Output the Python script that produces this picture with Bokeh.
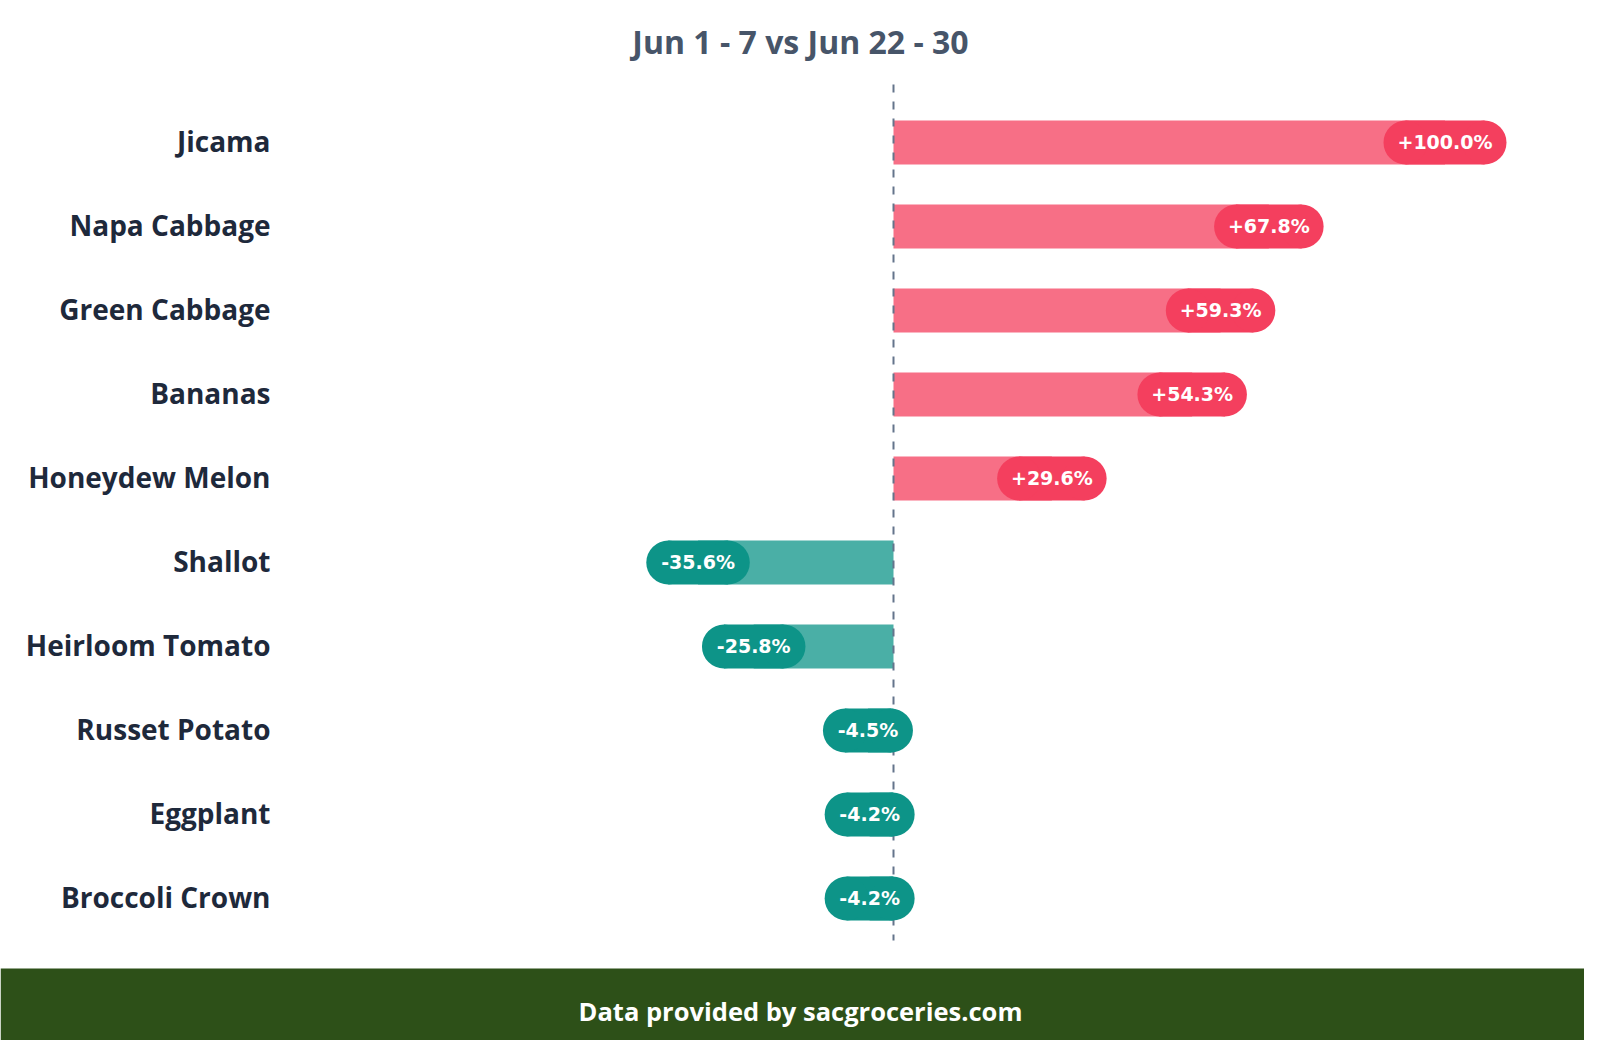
from bokeh.plotting import figure
from bokeh.models import Range1d, BoxAnnotation, ColumnDataSource
from bokeh.core.properties import value
from bokeh.embed import file_html
from bokeh.resources import INLINE

# ---- data ----
items = ["Jicama", "Napa Cabbage", "Green Cabbage", "Bananas", "Honeydew Melon",
         "Shallot", "Heirloom Tomato", "Russet Potato", "Eggplant", "Broccoli Crown"]
changes = [100.0, 67.8, 59.3, 54.3, 29.6, -35.6, -25.8, -4.5, -4.2, -4.2]
title_text = "Jun 1 - 7 vs Jun 22 - 30"
footer_text = "Data provided by sacgroceries.com"

# ---- style / layout ----
W, H = 1584, 1040
ZERO_PX = 893          # frame x of the zero line
X_SCALE = 5.68         # px per percentage point
ROW_PX = 84
TOP_PX = 142           # frame y of first row centre
PAD_PX = 45            # pill extends this far beyond the value end
PILL_H = 44
LABEL_RIGHT_PX = 270
POS_COL, NEG_COL = "#f43f5e", "#0d9488"
CHAR_W = {"+": 13, "-": 7, ".": 6, "%": 20}

def px_to_x(px):
    return (px - ZERO_PX) / X_SCALE

def py_to_y(py):
    return -(py - TOP_PX) / ROW_PX

x_range = Range1d(px_to_x(0), px_to_x(W))
y_range = Range1d(py_to_y(H), py_to_y(0))

p = figure(width=W, height=H, x_range=x_range, y_range=y_range,
           x_axis_type=None, y_axis_type=None, output_backend="svg",
           toolbar_location=None, min_border=0)
p.grid.visible = False
p.outline_line_color = None
p.background_fill_color = "white"
p.border_fill_color = "white"

ys = [-i for i in range(len(items))]
labels = [("+" if v >= 0 else "") + f"{v:.1f}%" for v in changes]
colors = [POS_COL if v >= 0 else NEG_COL for v in changes]

pill_w, pill_c, cap_l, cap_r = [], [], [], []
for v, lab in zip(changes, labels):
    s = 1 if v >= 0 else -1
    w = 30 + sum(CHAR_W.get(ch, 13.5) for ch in lab)
    outer = v + s * PAD_PX / X_SCALE
    c = outer - s * (w / 2) / X_SCALE
    off = (w / 2 - PILL_H / 2) / X_SCALE
    pill_w.append(w - PILL_H)
    pill_c.append(c)
    cap_l.append(c - off)
    cap_r.append(c + off)

src = ColumnDataSource(dict(y=ys, v=changes, lab=labels, col=colors, pw=pill_w,
                            pc=pill_c, cl=cap_l, cr=cap_r, name=items))

# light bars
p.hbar(y="y", left=0, right="pc", height=PILL_H / ROW_PX, fill_color="col",
       fill_alpha=0.75, line_color=None, source=src)

# zero dashed line
p.segment(x0=0, y0=py_to_y(84), x1=0, y1=py_to_y(940), line_color="#64748b",
          line_width=2, line_dash="8 9")

# pills
p.rect(x="pc", y="y", width="pw", height=PILL_H, width_units="screen",
       height_units="screen", fill_color="col", line_color=None, source=src)
p.scatter(x="cl", y="y", size=PILL_H, marker="circle", fill_color="col",
          line_color=None, source=src)
p.scatter(x="cr", y="y", size=PILL_H, marker="circle", fill_color="col",
          line_color=None, source=src)

p.text(x="pc", y="y", text="lab", text_align="center", text_baseline="middle",
       y_offset=-1, text_font=value("DejaVu Sans"), text_font_style="bold",
       text_font_size="19px", text_color="white", source=src)

# category labels
p.text(x=px_to_x(LABEL_RIGHT_PX), y="y", text="name", text_align="right",
       text_baseline="middle", y_offset=-2, text_font=value("Open Sans"),
       text_font_style="bold", text_font_size="28px", text_color="#1e293b", source=src)

# title
p.text(x=[px_to_x(800)], y=[py_to_y(43)], text=[title_text], text_align="center",
       text_baseline="middle", y_offset=-2, text_font=value("Open Sans"),
       text_font_style="bold", text_font_size="32px", text_color="#475569")

# footer
p.add_layout(BoxAnnotation(top=py_to_y(968), fill_color="#2d5018", fill_alpha=1.0,
                           line_color=None, level="underlay"))
p.text(x=[px_to_x(800)], y=[py_to_y(1013)], text=[footer_text], text_align="center",
       text_baseline="middle", y_offset=-3, text_font=value("Open Sans"),
       text_font_style="bold", text_font_size="25.5px", text_color="white")

open("out.html", "w").write(file_html(p, INLINE))
